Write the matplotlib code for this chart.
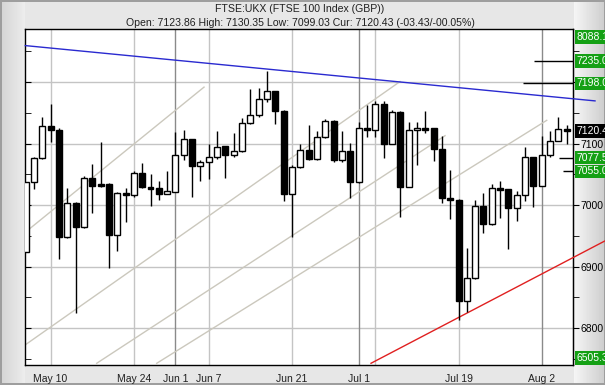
import numpy as np
import matplotlib
matplotlib.use('Agg')
import matplotlib.pyplot as plt
import matplotlib.transforms as mtrans
from matplotlib.patches import Rectangle

plt.rcParams['font.family'] = ['Liberation Sans', 'DejaVu Sans']

## daily candles, trading day index 0 = first (cut) candle on the left
opens  = [6924, 7038, 7076, 7129, 7123, 6948, 7004, 6964, 7044, 7035,
          7035, 6951, 7020, 7017, 7052, 7030, 7028, 7019, 7022, 7081,
          7107, 7064, 7070, 7078, 7096, 7081, 7088, 7133, 7146, 7172,
          7185, 7153, 7018, 7062, 7090, 7075, 7111, 7137, 7073, 7088,
          7037, 7126, 7123, 7164, 7100, 7152, 7030, 7122, 7126, 7125,
          7091, 7011, 7009, 6845, 6881, 6999, 6969, 7028, 7026, 6996,
          7016, 7078, 7032, 7081, 7105, 7123.86]
highs  = [7038, 7078, 7143, 7165, 7125, 7028, 7005, 7048, 7067, 7102,
          7036, 7021, 7028, 7055, 7068, 7050, 7040, 7055, 7119, 7122,
          7108, 7074, 7100, 7121, 7097, 7117, 7141, 7189, 7191, 7218,
          7186, 7155, 7065, 7099, 7130, 7120, 7140, 7138, 7121, 7101,
          7135, 7163, 7169, 7170, 7154, 7153, 7136, 7136, 7153, 7126,
          7112, 7057, 7010, 6931, 7008, 7020, 7034, 7040, 7027, 7023,
          7095, 7079, 7113, 7120, 7143, 7130.35]
lows   = [6924, 7027, 7075, 7103, 6912, 6946, 6824, 6963, 6988, 7030,
          6898, 6926, 6973, 7013, 7028, 6998, 7008, 7018, 7021, 7074,
          7014, 7040, 7042, 7075, 7045, 7079, 7087, 7132, 7144, 7168,
          7132, 7007, 6949, 7061, 7074, 7073, 7110, 7071, 7071, 7012,
          7036, 7111, 7111, 7076, 7099, 6981, 7029, 7065, 7117, 7072,
          7004, 6978, 6814, 6827, 6880, 6955, 6968, 6980, 6929, 6975,
          7007, 6997, 7031, 7078, 7104, 7099.03]
closes = [7038, 7076, 7129, 7123, 6948, 7004, 6964, 7044, 7032, 7032,
          6951, 7020, 7017, 7052, 7029, 7027, 7019, 7023, 7081, 7107,
          7064, 7070, 7078, 7095, 7081, 7088, 7133, 7146, 7172, 7185,
          7153, 7018, 7062, 7090, 7075, 7111, 7137, 7073, 7088, 7037,
          7125, 7123, 7164, 7100, 7151, 7030, 7122, 7126, 7123, 7091,
          7011, 7008, 6845, 6881, 6998, 6969, 7028, 7025, 6996, 7016,
          7078, 7032, 7081, 7105, 7124, 7120.43]

date_pos    = [3, 13, 18, 22, 32, 40, 52, 62]
date_labels = ['May 10', 'May 24', 'Jun 1', 'Jun 7', 'Jun 21', 'Jul 1', 'Jul 19', 'Aug 2']
month_start = [18, 40, 62]
extra_grid  = [42]

## trend lines (index, price)
blue_x, blue_y = [-0.04, 68.4], [7259.5, 7169.6]
red_x, red_y   = [41.49, 69.6], [6743, 6942]
chan_x = [[-0.04, 21.43], [-0.04, 44.97], [8.54, 50.38], [15.75, 62.6]]
chan_y = [[6956, 7192], [6773, 7201], [6743, 7113], [6743, 7138]]

## target levels drawn at the right
targets      = [7235.0, 7198.0, 7077.5, 7055.0]
target_start = [61.1, 59.7, 64.1, 64.5]
target_text  = ['7235.0', '7198.0', '7077.5', '7055.0']

W, H = 605, 385
fig = plt.figure(figsize=(W / 100, H / 100), dpi=100)

## grey frame background
bg = np.full((H, W), 0.905)
xs = np.arange(W)
left = (xs < 25)
bg[:, left] = 0.83 + 0.10 * xs[left] / 25
right = (xs >= 574)
bg[:, right] = 0.96 - 0.16 * (xs[right] - 574) / 31
bg[:2, :] = 0.62
bg[-2:, :] = 0.62
bg[:, :2] = 0.62
bg[:, -1:] = 0.62
bgax = fig.add_axes([0, 0, 1, 1], zorder=-10)
bgax.imshow(bg, cmap='gray', vmin=0, vmax=1, aspect='auto', interpolation='nearest')
bgax.axis('off')

x0, x1, y0, y1 = 25.3, 573.3, 29.3, 364.5
ax = fig.add_axes([x0 / W, 1 - y1 / H, (x1 - x0) / W, (y1 - y0) / H])
ax.set_facecolor('white')
ax.set_xlim(-0.04, 65.79)
ax.set_ylim(6741, 7286)

## grid
for p in [6800, 6900, 7000, 7100, 7200]:
    ax.axhline(p, color='#c4c4c4', lw=1, zorder=0)
for d in date_pos + extra_grid:
    ax.axvline(d, color='#8a8a8a' if d in month_start else '#c4c4c4', lw=1, zorder=0)

## channel lines
for cx, cy in zip(chan_x, chan_y):
    ax.plot(cx, cy, color='#cbc8bd', lw=1, zorder=1)

ax.plot(blue_x, blue_y, color='#2a2ad0', lw=1, zorder=3, clip_on=False)
ax.plot(red_x, red_y, color='#e02020', lw=1, zorder=3, clip_on=False)

## candles
bw = 0.72
for i in range(len(opens)):
    o, h, l, c = opens[i], highs[i], lows[i], closes[i]
    ax.vlines(i, l, h, color='black', lw=1, zorder=4)
    fc = 'white' if c >= o else 'black'
    ax.add_patch(Rectangle((i - bw / 2, min(o, c)), bw, max(abs(c - o), 1.5),
                           facecolor=fc, edgecolor='black', lw=1, zorder=5))

## target levels
for t, s in zip(targets, target_start):
    ax.hlines(t, s, 65.79, color='black', lw=1, zorder=4)

## axes / ticks
for sp in ax.spines.values():
    sp.set_color('black')
    sp.set_linewidth(1)
ax.set_xticks(date_pos)
ax.set_xticklabels(date_labels)
ax.tick_params(axis='x', length=0, pad=7, labelsize=7.5, colors='#202020')
ax.set_yticks([6800, 6900, 7000, 7100, 7200])
ax.set_yticks([6750, 6850, 6950, 7050, 7150, 7250], minor=True)
ax.tick_params(axis='y', which='both', direction='in', length=4, labelleft=False)

sec = ax.secondary_yaxis('right')
sec.set_yticks([6800, 6900, 7000, 7100, 7200])
sec.set_yticklabels(['6800', '6900', '7000', '7100', ''])
sec.set_yticks([6750, 6850, 6950, 7050, 7150, 7250], minor=True)
sec.tick_params(which='both', direction='out', length=4, pad=1, labelsize=7.5)

## price boxes on the right
tr = mtrans.blended_transform_factory(ax.transAxes, ax.transData)
tx = 1 + 3.5 / (x1 - x0)
green = '#14a014'
box = dict(boxstyle='square,pad=0.18', facecolor=green, edgecolor='none')
for t, s in zip(targets, target_text):
    ax.text(tx, t, s, transform=tr, color='white', fontsize=7.5, va='center',
            ha='left', bbox=box, clip_on=False, zorder=10)
ax.text(tx, closes[-1], '7120.43', transform=tr, color='white', fontsize=7.5,
        va='center', ha='left', clip_on=False, zorder=10,
        bbox=dict(boxstyle='square,pad=0.18', facecolor='black', edgecolor='none'))
ax.text(tx, 0.978, '8088.1', transform=ax.transAxes, color='white', fontsize=7.5,
        va='center', ha='left', bbox=box, clip_on=False, zorder=10)
ax.text(tx, 0.019, '6505.3', transform=ax.transAxes, color='white', fontsize=7.5,
        va='center', ha='left', bbox=box, clip_on=False, zorder=10)

## header
fig.text(0.496, 1 - 9 / H, 'FTSE:UKX (FTSE 100 Index (GBP))', ha='center', va='center',
         fontsize=7.6, color='#202020')
fig.text(0.496, 1 - 22.5 / H,
         'Open: 7123.86 High: 7130.35 Low: 7099.03 Cur: 7120.43 (-03.43/-00.05%)',
         ha='center', va='center', fontsize=7.6, color='#202020')

fig.savefig('out.png', dpi=100)
